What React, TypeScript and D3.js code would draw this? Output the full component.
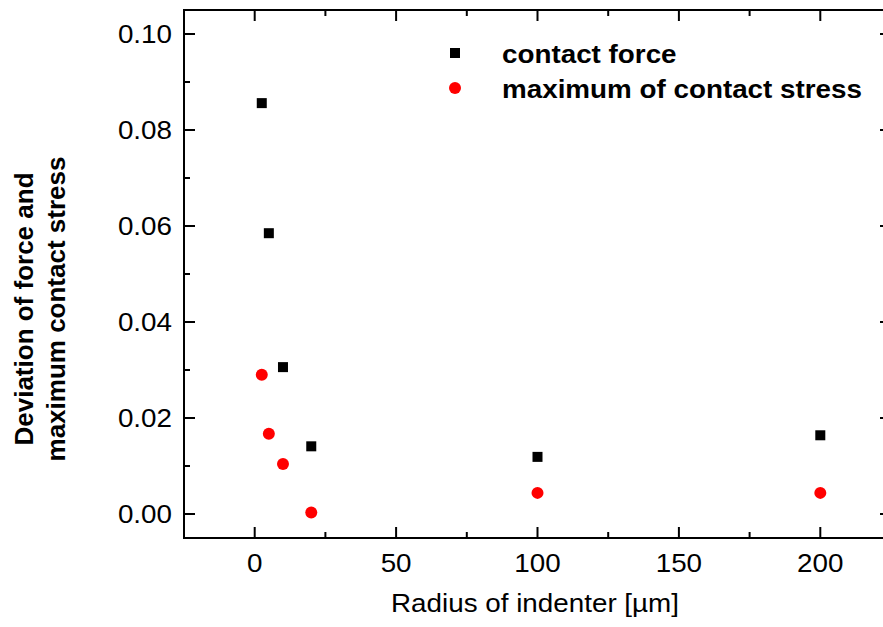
import React from "react";
import * as d3 from "d3";

// Indenter radius (µm) and relative deviations
const radii = [2.5, 5, 10, 20, 100, 200];
const forceDeviation = [0.0856, 0.0585, 0.0306, 0.0141, 0.0119, 0.0164];
const stressDeviation = [0.029, 0.0167, 0.0104, 0.0003, 0.0044, 0.0044];

const xMajorTicks = [0, 50, 100, 150, 200];
const xMinorTicks = [25, 75, 125, 175];
const yMajorTicks = [0, 0.02, 0.04, 0.06, 0.08, 0.1];
const yMinorTicks = [0.01, 0.03, 0.05, 0.07, 0.09];

const seriesNames = ["contact force", "maximum of contact stress"];
const xTitle = "Radius of indenter [µm]";
const yTitleLines = ["Deviation of force and", "maximum contact stress"];

const W = 883;
const H = 627;
const left = 184;
const right = 891;
const top = 10;
const bottom = 538;
const font = "Arial, 'Liberation Sans', Helvetica, sans-serif";
const stretch = 1.07;

export default function App() {
  const x = d3.scaleLinear().domain([-25, 225]).range([left, right]);
  const y = d3.scaleLinear().domain([-0.005, 0.105]).range([bottom, top]);
  const fmt = d3.format(".2f");

  const majorLen = 11;
  const minorLen = 6;
  const sw = 2;

  return (
    <svg
      width={W}
      height={H}
      style={{ position: "absolute", left: 0, top: 0, background: "#fff" }}
      fontFamily={font}
    >
      <rect width={W} height={H} fill="#fff" />
      {/* frame */}
      <rect
        x={left}
        y={top}
        width={right - left}
        height={bottom - top}
        fill="none"
        stroke="#000"
        strokeWidth={sw}
      />
      {/* x ticks, bottom and top, pointing inward */}
      {xMajorTicks.map((t) => (
        <g key={"xM" + t} stroke="#000" strokeWidth={sw}>
          <line x1={x(t)} x2={x(t)} y1={bottom} y2={bottom - majorLen} />
          <line x1={x(t)} x2={x(t)} y1={top} y2={top + majorLen} />
        </g>
      ))}
      {xMinorTicks.map((t) => (
        <g key={"xm" + t} stroke="#000" strokeWidth={sw}>
          <line x1={x(t)} x2={x(t)} y1={bottom} y2={bottom - minorLen} />
          <line x1={x(t)} x2={x(t)} y1={top} y2={top + minorLen} />
        </g>
      ))}
      {/* y ticks, left and right, pointing inward */}
      {yMajorTicks.map((t) => (
        <g key={"yM" + t} stroke="#000" strokeWidth={sw}>
          <line x1={left} x2={left + majorLen} y1={y(t)} y2={y(t)} />
          <line x1={right} x2={right - majorLen} y1={y(t)} y2={y(t)} />
        </g>
      ))}
      {yMinorTicks.map((t) => (
        <g key={"ym" + t} stroke="#000" strokeWidth={sw}>
          <line x1={left} x2={left + minorLen} y1={y(t)} y2={y(t)} />
          <line x1={right} x2={right - minorLen} y1={y(t)} y2={y(t)} />
        </g>
      ))}
      {/* tick labels */}
      {xMajorTicks.map((t) => (
        <g key={"xl" + t} transform={`translate(${x(t)},572) scale(${stretch},1)`}>
          <text textAnchor="middle" fontSize={26} fill="#000">
            {t}
          </text>
        </g>
      ))}
      {yMajorTicks.map((t) => (
        <g key={"yl" + t} transform={`translate(172,${y(t) + 9.3}) scale(${stretch},1)`}>
          <text textAnchor="end" fontSize={26} fill="#000">
            {fmt(t)}
          </text>
        </g>
      ))}
      {/* axis titles */}
      <g transform={`translate(535,612) scale(${stretch},1)`}>
        <text textAnchor="middle" fontSize={26} fill="#000">
          {xTitle}
        </text>
      </g>
      {yTitleLines.map((line, i) => (
        <text
          key={line}
          transform={`translate(${33 + i * 32},309) rotate(-90)`}
          textAnchor="middle"
          fontSize={26}
          fontWeight="bold"
          fill="#000"
        >
          {line}
        </text>
      ))}
      {/* data */}
      {radii.map((r, i) => (
        <rect
          key={"f" + i}
          x={x(r) - 5}
          y={y(forceDeviation[i]) - 5}
          width={10}
          height={10}
          fill="#000"
        />
      ))}
      {radii.map((r, i) => (
        <circle key={"s" + i} cx={x(r)} cy={y(stressDeviation[i])} r={6} fill="#ff0000" />
      ))}
      {/* legend */}
      <rect x={450} y={48} width={10} height={10} fill="#000" />
      <circle cx={455} cy={88} r={6} fill="#ff0000" />
      <g transform={`translate(502,63) scale(${stretch},1)`}>
        <text fontSize={26} fontWeight="bold" fill="#000">
          {seriesNames[0]}
        </text>
      </g>
      <g transform={`translate(502,98) scale(${stretch},1)`}>
        <text fontSize={26} fontWeight="bold" fill="#000">
          {seriesNames[1]}
        </text>
      </g>
    </svg>
  );
}
